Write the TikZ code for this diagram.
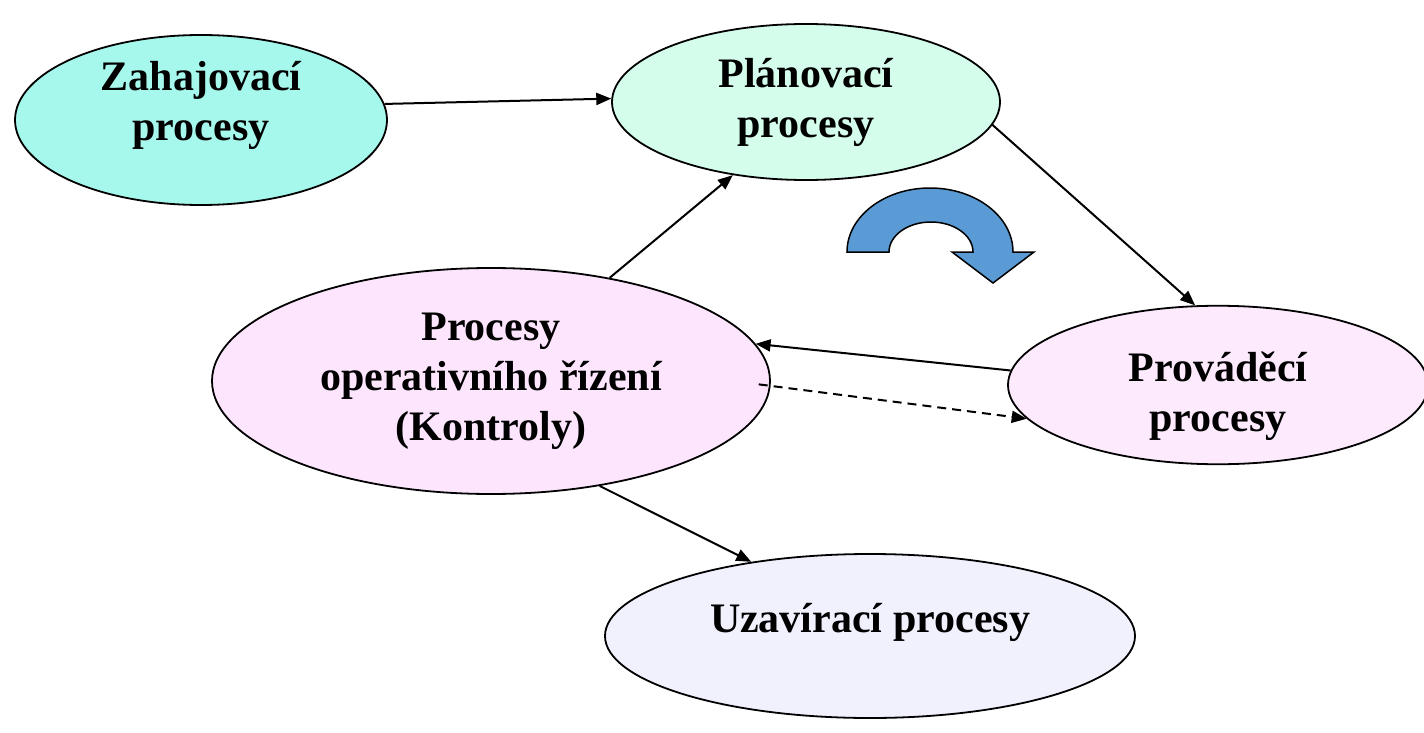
\documentclass[tikz,border=0pt]{standalone}
\usepackage{fontspec}
\setmainfont{Liberation Serif}
\usetikzlibrary{arrows.meta,shapes.geometric}
\definecolor{zahfill}{RGB}{166,247,236}
\definecolor{planfill}{RGB}{212,253,236}
\definecolor{operfill}{RGB}{253,230,253}
\definecolor{provfill}{RGB}{253,234,253}
\definecolor{uzavfill}{RGB}{241,241,254}
\definecolor{turnblue}{RGB}{91,155,213}

\begin{document}
\begin{tikzpicture}[x=1pt,y=-1pt,
    proc/.style={ellipse,draw=black,line width=1.8pt,inner sep=0pt,align=center,
      font=\fontsize{42}{50}\selectfont\bfseries},
    conn/.style={-{Triangle[length=15pt,width=12pt]},line width=2pt}]
\useasboundingbox (0,0) rectangle (1424,733);

\node[proc,fill=zahfill,minimum width=372pt,minimum height=170pt,text depth=39pt] (zah) at (201,120) {Zahajovací\\procesy};
\node[proc,fill=planfill,minimum width=388pt,minimum height=156pt] (plan) at (806,102) {Plánovací\\procesy};
\node[proc,fill=operfill,minimum width=558pt,minimum height=226pt] (oper) at (491,381) {Procesy\\operativního řízení\\(Kontroly)};
\node[proc,fill=provfill,minimum width=420pt,minimum height=156pt,text height=103pt] (prov) at (1218,385) {Prováděcí\\procesy};
\node[proc,fill=uzavfill,minimum width=530pt,minimum height=164pt,text depth=37pt] (uzav) at (870,636) {Uzavírací procesy};

\draw[conn] (zah.5) -- (plan.179);
\draw[conn] (plan.-7) -- (prov.106);
\draw[conn] (prov.176) -- (oper.8.5);
\draw[conn,dash pattern=on 9pt off 6pt,shorten <=-12pt] (oper.-1.5) -- (prov.190);
\draw[conn] (oper.41) -- (plan.225);
\draw[conn] (oper.-44) -- (uzav.148);

% turning arrow
\draw[fill=turnblue,line width=1.5pt] (847,252) arc[start angle=180,end angle=0,x radius=83pt,y radius=64pt]
  -- (1034,252) -- (993,283) -- (952,252) -- (973,252)
  arc[start angle=0,end angle=180,x radius=42pt,y radius=30pt] -- cycle;

\end{tikzpicture}
\end{document}
